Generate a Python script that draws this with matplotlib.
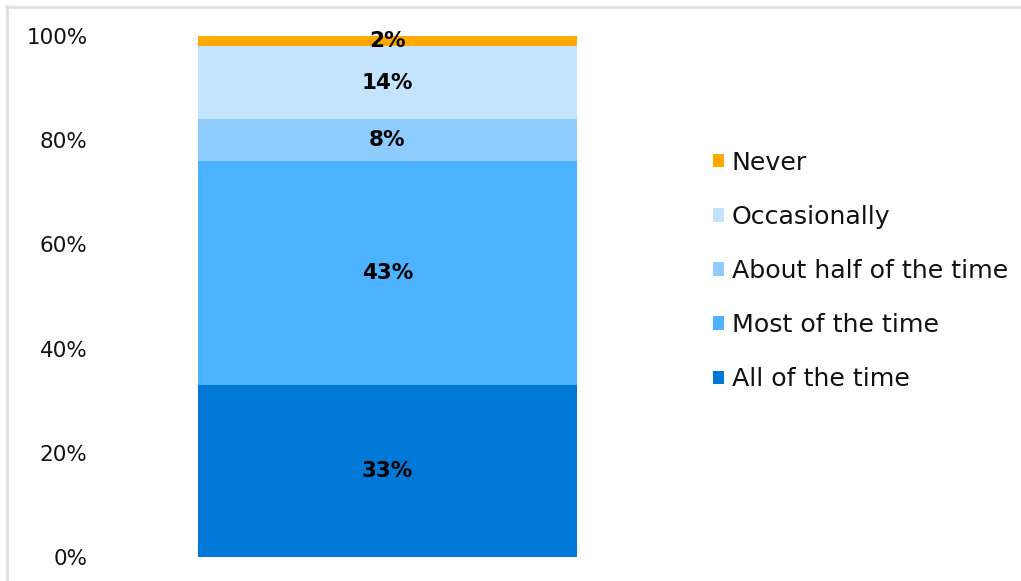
import matplotlib.pyplot as plt
from matplotlib.lines import Line2D

# Share of respondents per answer, stacked bottom to top
answers = ['All of the time', 'Most of the time', 'About half of the time', 'Occasionally', 'Never']
shares = [33, 43, 8, 14, 2]
colors = ['#0078D7', '#4DB2FF', '#8ECBFF', '#C4E3FF', '#FFA800']
yticks = [0, 20, 40, 60, 80, 100]

plt.rcParams['font.family'] = ['DejaVu Sans']

fig = plt.figure(figsize=(10.21, 5.81), dpi=100)
ax = fig.add_axes([100 / 1021, 24 / 581, 575 / 1021, 521 / 581])

bottom = 0
handles = []
for name, val, c in zip(answers, shares, colors):
    b = ax.bar(0, val, bottom=bottom, width=0.66, color=c, label=name)
    handles.append(b)
    ax.text(0, bottom + val / 2, f"{val}%", ha='center', va='center',
            fontsize=15.5, fontweight='bold', color='black')
    bottom += val

ax.set_xlim(-0.5, 0.5)
ax.set_ylim(0, 100)
ax.set_yticks(yticks)
ax.set_yticklabels([f"{t}%" for t in yticks], fontsize=15.5, color='#111111')
ax.tick_params(axis='y', length=0, pad=9)
ax.set_xticks([])
for sp in ax.spines.values():
    sp.set_visible(False)

# legend lists the top segment first
fig.legend(handles[::-1], answers[::-1], loc='center left',
           bbox_to_anchor=(713 / 1021, 1 - 271 / 581), frameon=False,
           fontsize=18.2, labelcolor='#111111', handlelength=0.43, handleheight=0.43,
           handletextpad=0.32, labelspacing=1.19, borderpad=0, borderaxespad=0)

# light frame around the chart area
fig.add_artist(Line2D([6 / 1021, 1.0], [1 - 7 / 581, 1 - 7 / 581], color='#E0E0E0', lw=2))
fig.add_artist(Line2D([7 / 1021, 7 / 1021], [0, 1 - 6 / 581], color='#E0E0E0', lw=2))

fig.savefig('out.png', dpi=100)
